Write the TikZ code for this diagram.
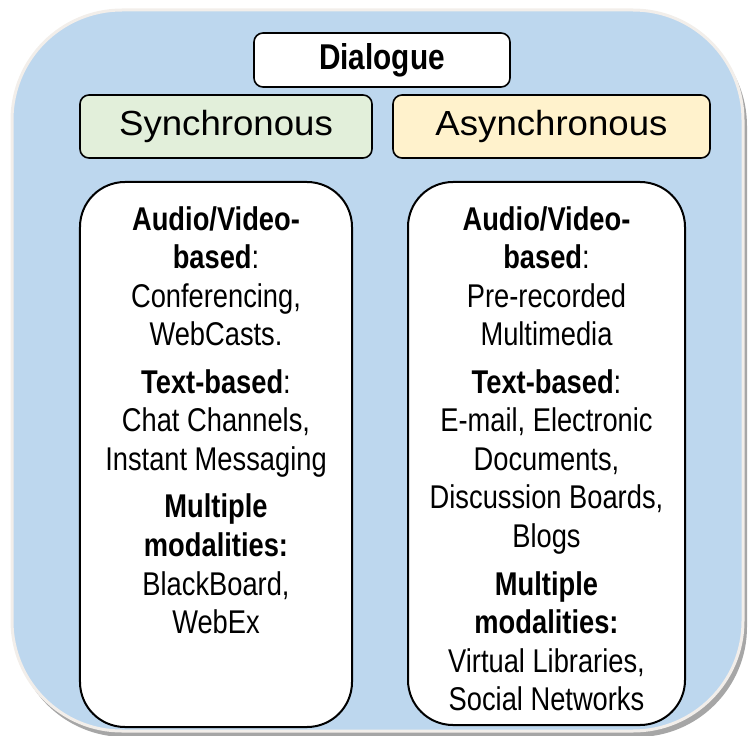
\documentclass[tikz,border=0pt]{standalone}
\usepackage{fontspec}
\setmainfont{Liberation Sans}
\newfontfamily\bodyfont[FakeStretch=0.83]{Liberation Sans}
\newfontfamily\headfont[FakeStretch=1.05]{Liberation Sans}
\usetikzlibrary{positioning}
\definecolor{dialogblue}{RGB}{189,215,238}
\definecolor{syncgreen}{RGB}{226,239,218}
\definecolor{asyncyellow}{RGB}{255,242,204}
\definecolor{rimgray}{RGB}{242,238,234}

\begin{document}
\begin{tikzpicture}[
                  x = 1bp,
                  y = -1bp,
        outer/.style = {rounded corners=110bp},
       header/.style = {draw, line width=1.6bp, rounded corners=9bp,
                        minimum height=63bp, inner sep=0pt,
                        font=\headfont\fontsize{35}{40}\selectfont},
       dialog/.style = {header, fill=white, minimum width=256bp, minimum height=54bp,
                        font=\bodyfont\fontsize{36}{40}\selectfont\bfseries},
       column/.style = {draw, fill=white, line width=2bp, rounded corners=45bp},
   columntext/.style = {align=center, inner sep=0pt,
                        font=\bodyfont\fontsize{33}{38.7}\selectfont},
                    ]
\useasboundingbox (0,0) rectangle (749,736);
% background panel with its shadow
\fill[gray!70, outer] (15,16) rectangle (747,737);
\filldraw[fill=dialogblue, draw=rimgray, line width=3bp, outer] (12,10) rectangle (743,731);

\node[dialog] (dialogue) at (382,60) {Dialogue};
\node[header, fill=syncgreen, minimum width=292bp] (sync) at (226,126.5) {Synchronous};
\node[header, fill=asyncyellow, minimum width=317bp] (async) at (551.5,126.5) {Asynchronous};

\node[column, minimum width=272bp, minimum height=545bp] (synccol) at (216,454.5) {};
\node[column, minimum width=277bp, minimum height=543bp] (asynccol) at (546.5,453.5) {};

\node[columntext, below=25bp of synccol.north] (synctext) {%
    \textbf{Audio/Video-}\\ \textbf{based}:\\ Conferencing,\\ WebCasts.\\[9bp]
    \textbf{Text-based}:\\ Chat Channels,\\ Instant Messaging\\[9bp]
    \textbf{Multiple}\\ \textbf{modalities:}\\ BlackBoard,\\ WebEx};
\node[columntext, below=25bp of asynccol.north] (asynctext) {%
    \textbf{Audio/Video-}\\ \textbf{based}:\\ Pre-recorded\\ Multimedia\\[9bp]
    \textbf{Text-based}:\\ E-mail, Electronic\\ Documents,\\ Discussion Boards,\\ Blogs\\[9bp]
    \textbf{Multiple}\\ \textbf{modalities:}\\ Virtual Libraries,\\ Social Networks};
\end{tikzpicture}
\end{document}
